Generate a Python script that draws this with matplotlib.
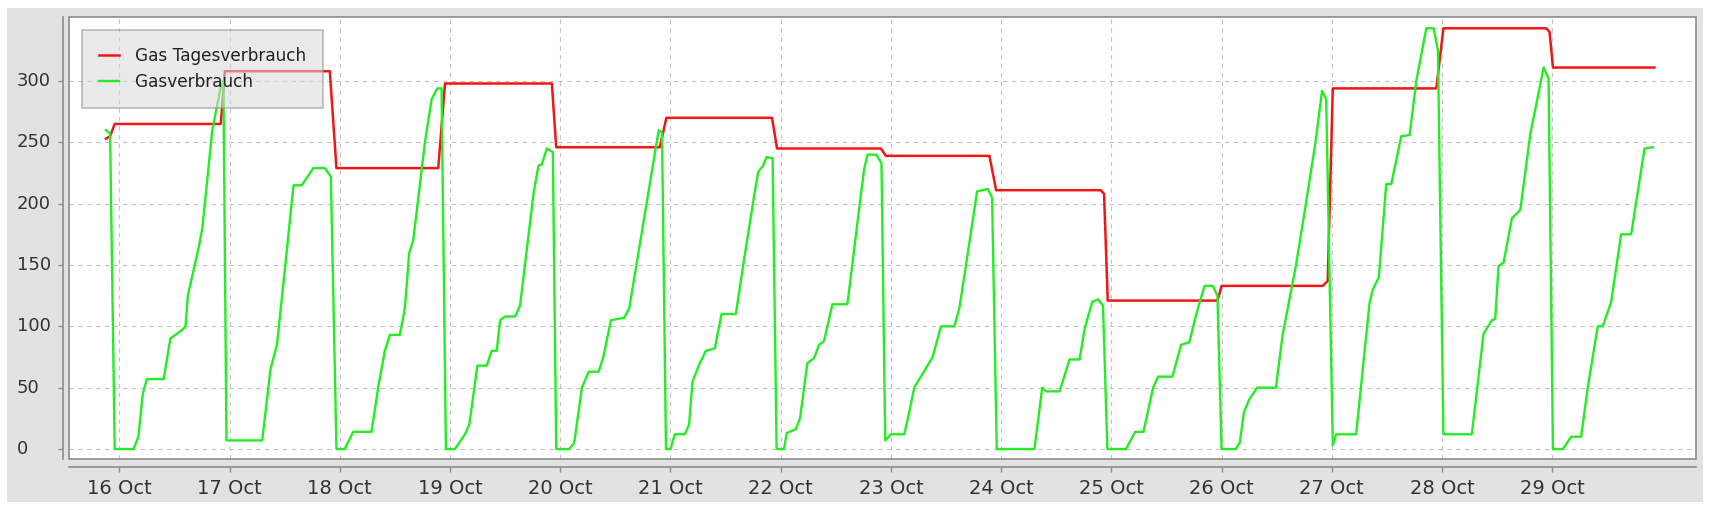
import matplotlib
matplotlib.use("Agg")
import matplotlib.pyplot as plt
import matplotlib.dates as mdates
import matplotlib.transforms as mtransforms
from matplotlib.patches import Rectangle
import pandas as pd

# Gas Tagesverbrauch (rot) - Zeitpunkte und Werte
tag_zeit = ["10-15 21:05", "10-15 22:00", "10-15 23:00",
            "10-16 22:05", "10-16 23:00",
            "10-17 21:50", "10-17 23:17",
            "10-18 21:27", "10-18 22:55",
            "10-19 22:11", "10-19 23:08",
            "10-20 21:42", "10-20 23:07",
            "10-21 22:07", "10-21 23:13",
            "10-22 21:49", "10-22 22:55",
            "10-23 21:27", "10-23 22:55",
            "10-24 21:42", "10-24 22:25", "10-24 23:13",
            "10-25 23:08", "10-26 00:00",
            "10-26 22:02", "10-26 23:07", "10-27 00:13",
            "10-27 22:46", "10-28 00:18",
            "10-28 22:41", "10-28 23:25", "10-29 00:09",
            "10-29 22:15"]
tag_wert = [253, 255, 265,
            265, 308,
            308, 229,
            229, 298,
            298, 246,
            246, 270,
            270, 245,
            245, 239,
            239, 211,
            211, 208, 121,
            121, 133,
            133, 137, 294,
            294, 343,
            343, 340, 311,
            311]

# Gasverbrauch (gruen)
gas_zeit = ["10-15 21:05", "10-15 22:00", "10-15 23:00",
            "10-16 03:05", "10-16 04:10", "10-16 05:07", "10-16 06:00", "10-16 09:40",
            "10-16 11:07", "10-16 12:13", "10-16 13:40", "10-16 14:25", "10-16 14:55",
            "10-16 17:20", "10-16 18:05", "10-16 20:15", "10-16 22:05", "10-16 22:40",
            "10-16 23:20",
            "10-17 07:07", "10-17 08:55", "10-17 10:20", "10-17 12:09", "10-17 13:56",
            "10-17 15:44", "10-17 17:32", "10-17 18:15", "10-17 20:46", "10-17 22:04",
            "10-17 23:17",
            "10-18 01:05", "10-18 02:55", "10-18 06:55", "10-18 08:22", "10-18 09:49",
            "10-18 10:55", "10-18 13:05", "10-18 14:11", "10-18 15:08", "10-18 16:00",
            "10-18 18:33", "10-18 20:00", "10-18 21:14", "10-18 22:10", "10-18 23:07",
            "10-19 01:05", "10-19 03:16", "10-19 04:13", "10-19 05:58", "10-19 08:00",
            "10-19 09:05", "10-19 10:11", "10-19 10:55", "10-19 12:00", "10-19 14:11",
            "10-19 15:16", "10-19 18:11", "10-19 19:16", "10-19 20:00", "10-19 21:05",
            "10-19 22:24", "10-19 23:08",
            "10-20 01:58", "10-20 03:03", "10-20 04:44", "10-20 06:12", "10-20 08:22",
            "10-20 09:23", "10-20 11:03", "10-20 13:58", "10-20 15:03", "10-20 21:27",
            "10-20 22:10", "10-20 23:02",
            "10-21 00:00", "10-21 00:57", "10-21 03:08", "10-21 04:04", "10-21 04:48",
            "10-21 06:24", "10-21 07:42", "10-21 09:40", "10-21 11:08", "10-21 14:15",
            "10-21 15:51", "10-21 18:10", "10-21 19:07", "10-21 20:12", "10-21 20:56",
            "10-21 22:15", "10-21 23:07",
            "10-22 00:44", "10-22 01:19", "10-22 03:16", "10-22 04:13", "10-22 05:49",
            "10-22 07:16", "10-22 08:22", "10-22 09:27", "10-22 10:11", "10-22 11:16",
            "10-22 14:31", "10-22 15:10", "10-22 16:44", "10-22 18:10", "10-22 18:55",
            "10-22 20:51", "10-22 21:57", "10-22 22:46",
            "10-23 00:00", "10-23 02:55", "10-23 04:00", "10-23 05:05", "10-23 06:11",
            "10-23 07:03", "10-23 09:05", "10-23 10:55", "10-23 13:49", "10-23 14:55",
            "10-23 16:22", "10-23 18:46", "10-23 21:05", "10-23 22:02", "10-23 23:03",
            "10-24 07:16", "10-24 08:57", "10-24 09:49", "10-24 12:44", "10-24 14:55",
            "10-24 17:05", "10-24 18:11", "10-24 19:51", "10-24 21:05", "10-24 22:11",
            "10-24 23:08",
            "10-25 03:12", "10-25 05:12", "10-25 07:00", "10-25 09:06", "10-25 10:12",
            "10-25 13:18", "10-25 15:12", "10-25 17:00", "10-25 18:30", "10-25 20:18",
            "10-25 22:06", "10-25 23:06",
            "10-26 00:00", "10-26 03:05", "10-26 03:57", "10-26 04:53", "10-26 05:58",
            "10-26 07:46", "10-26 11:50", "10-26 13:18", "10-26 16:13", "10-26 18:22",
            "10-26 20:27", "10-26 21:53", "10-26 22:47",
            "10-27 00:13", "10-27 00:57", "10-27 05:18", "10-27 08:13", "10-27 08:56",
            "10-27 10:15", "10-27 11:51", "10-27 12:57", "10-27 15:08", "10-27 16:57",
            "10-27 18:24", "10-27 20:35", "10-27 22:11", "10-27 23:07",
            "10-28 00:18", "10-28 06:29", "10-28 09:03", "10-28 10:52", "10-28 11:35",
            "10-28 12:18", "10-28 13:24", "10-28 15:13", "10-28 17:03", "10-28 19:14",
            "10-28 22:08", "10-28 23:12",
            "10-29 00:09", "10-29 02:19", "10-29 04:07", "10-29 06:17", "10-29 07:44",
            "10-29 09:54", "10-29 11:00", "10-29 12:50", "10-29 15:00", "10-29 17:11",
            "10-29 20:06", "10-29 21:54"]
gas_wert = [260, 257, 0,
            0, 10, 45, 57, 57,
            90, 93, 97, 100, 125,
            165, 180, 260, 295, 300,
            7,
            7, 65, 85, 150, 215,
            215, 225, 229, 229, 222,
            0,
            0, 14, 14, 50, 80,
            93, 93, 115, 160, 170,
            250, 285, 294, 294, 0,
            0, 12, 20, 68, 68,
            80, 80, 105, 108, 108,
            117, 208, 231, 232, 245,
            242, 0,
            0, 5, 50, 63, 63,
            75, 105, 107, 115, 260,
            258, 0,
            0, 12, 12, 20, 55,
            70, 80, 82, 110, 110,
            150, 205, 226, 231, 238,
            237, 0,
            0, 13, 16, 25, 70,
            74, 85, 88, 100, 118,
            118, 137, 185, 228, 240,
            240, 233, 7,
            12, 12, 30, 50, 57,
            62, 75, 100, 100, 115,
            150, 210, 212, 205, 0,
            0, 50, 47, 47, 73,
            73, 98, 120, 122, 117,
            0,
            0, 14, 14, 50, 59,
            59, 85, 87, 110, 133,
            133, 125,
            0, 0, 5, 30, 40,
            50, 50, 93, 150, 200,
            250, 292, 285,
            3, 12, 12, 119, 130,
            140, 216, 216, 255, 256,
            300, 343, 343, 325,
            12, 12, 94, 105, 106,
            149, 152, 188, 195, 257,
            311, 302,
            0, 0, 10, 10, 50,
            100, 100, 120, 175, 175,
            245, 246]

y_ticks = [0, 50, 100, 150, 200, 250, 300]
x_tage = pd.date_range("2013-10-16", "2013-10-29", freq="D")

jahr = "2013-"
tag_t = pd.to_datetime([jahr + z for z in tag_zeit])
gas_t = pd.to_datetime([jahr + z for z in gas_zeit])

W, H = 1713, 512
fig = plt.figure(figsize=(W / 100, H / 100), dpi=100, facecolor="white")
# grauer Hintergrund des Diagramms
fig.patches.append(Rectangle((7 / W, 10 / H), 1696 / W, 494 / H,
                             transform=fig.transFigure, facecolor="#e2e2e2",
                             edgecolor="none", zorder=-10))

ax = fig.add_axes([69 / W, 53 / H, 1627 / W, 442 / H])
ax.set_zorder(1)
ax.set_facecolor("white")

ax.plot(tag_t, tag_wert, color="#f21515", lw=1.8, label="Gas Tagesverbrauch", zorder=3)
ax.plot(gas_t, gas_wert, color="#22ee22", lw=1.7, label="Gasverbrauch", zorder=3)

ax.set_xlim(pd.Timestamp(jahr + "10-15 13:03"), pd.Timestamp(jahr + "10-30 07:18"))
ax.set_ylim(-8.15, 352.2)
ax.set_yticks(y_ticks)
ax.set_xticks(x_tage)
ax.xaxis.set_major_formatter(mdates.DateFormatter("%d %b"))

ax.grid(True, color="#c4c4c4", lw=0.8, linestyle=(0, (4, 4)))
ax.set_axisbelow(True)

for s in ["top", "right"]:
    ax.spines[s].set_visible(False)
ax.spines["left"].set_position(("outward", 4.3))
ax.spines["bottom"].set_position(("outward", 5.8))
for s in ["left", "bottom"]:
    ax.spines[s].set_color("#8c8c8c")
    ax.spines[s].set_linewidth(1.2)

# Rahmen der Zeichenflaeche
ax.add_patch(Rectangle((0, 0), 1, 1, transform=ax.transAxes, fill=False,
                       edgecolor="#8c8c8c", lw=1.2, clip_on=False, zorder=5))

ax.tick_params(axis="both", colors="#8c8c8c", labelcolor="#333333",
               length=3.6, width=1, direction="out")
ax.tick_params(axis="x", pad=5, labelsize=14)
# Y-Beschriftung linksbuendig wie im Original
ax.tick_params(axis="y", labelleft=False)
trans = mtransforms.blended_transform_factory(fig.transFigure, ax.transData)
for v in y_ticks:
    ax.text(17 / W, v, str(v), transform=trans, ha="left", va="center",
            fontsize=13, color="#333333", clip_on=False)

leg = ax.legend(loc="upper left", bbox_to_anchor=(0.008, 0.9706), borderaxespad=0,
                fontsize=12.2, frameon=True, fancybox=False, facecolor="#dadada",
                edgecolor="#888888", framealpha=0.55, borderpad=1.0,
                labelspacing=0.5, handlelength=1.2, handletextpad=0.95)
leg.get_frame().set_linewidth(1.2)
for t in leg.get_texts():
    t.set_color("#222222")

fig.savefig("out.png", dpi=100, facecolor="white")
